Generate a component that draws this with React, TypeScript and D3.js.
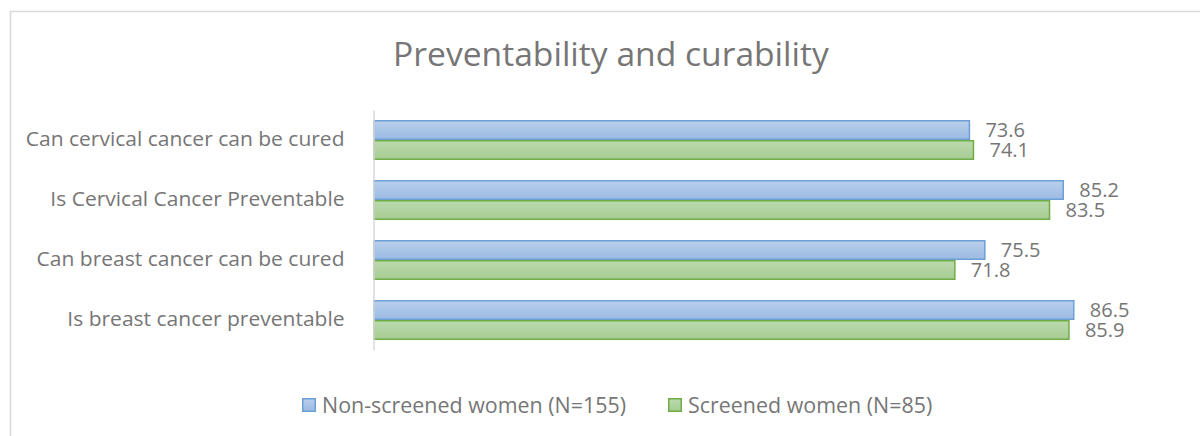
import React, { useEffect, useRef } from "react";
import * as d3 from "d3";

// categories top to bottom
const categories = [
	"Can cervical cancer can be cured",
	"Is Cervical Cancer Preventable",
	"Can breast cancer can be cured",
	"Is breast cancer preventable",
];
const nonScreened = [73.6, 85.2, 75.5, 86.5];
const screened = [74.1, 83.5, 71.8, 85.9];
const seriesNames = ["Non-screened women (N=155)", "Screened women (N=85)"];

const FONT = "'Open Sans', Lato, sans-serif";
const TEXT_COLOR = "#767676";

// the original font runs a bit wider than Open Sans, so widen texts slightly
function widen(sel: d3.Selection<any, any, any, any>, k: number) {
	sel.each(function () {
		const node = this as SVGTextElement;
		const len = node.getComputedTextLength();
		d3.select(node).attr("textLength", len * k).attr("lengthAdjust", "spacingAndGlyphs");
	});
}

export default function App() {
	const svgRef = useRef<SVGSVGElement | null>(null);

	useEffect(() => {
		if (!svgRef.current) return;
		const width = 1200;
		const height = 436;
		const plot = { left: 374, right: 1183, top: 110, bottom: 350 };

		const svg = d3.select(svgRef.current);
		svg.selectAll("*").remove();

		// gradients for the bars
		const defs = svg.append("defs");
		const grads = [
			{ id: "gBlue", top: "#b9cfec", bottom: "#9cbae3" },
			{ id: "gGreen", top: "#bcdaae", bottom: "#a5cc92" },
		];
		grads.forEach((g) => {
			const lg = defs.append("linearGradient").attr("id", g.id).attr("x1", 0).attr("y1", 0).attr("x2", 0).attr("y2", 1);
			lg.append("stop").attr("offset", "0%").attr("stop-color", g.top);
			lg.append("stop").attr("offset", "100%").attr("stop-color", g.bottom);
		});

		// chart border (right and bottom edges fall outside the picture)
		svg.append("rect")
			.attr("x", 10.5)
			.attr("y", 11.5)
			.attr("width", 1300)
			.attr("height", 500)
			.attr("fill", "none")
			.attr("stroke", "#d9d9d9")
			.attr("stroke-width", 1.5);

		const title = svg.append("text")
			.attr("x", 611)
			.attr("y", 66)
			.attr("text-anchor", "middle")
			.style("font-family", FONT)
			.style("font-size", "32px")
			.style("fill", TEXT_COLOR)
			.text("Preventability and curability");
		widen(title, 1.05);

		const x = d3.scaleLinear().domain([0, 100]).range([plot.left, plot.right]);
		const y = d3.scaleBand().domain(categories).range([plot.top, plot.bottom]).paddingInner(0.333).paddingOuter(0.1665);
		const sub = d3.scaleBand().domain(["0", "1"]).range([0, y.bandwidth()]);

		const series = [
			{ values: nonScreened, fill: "url(#gBlue)", stroke: "#6b9fd6" },
			{ values: screened, fill: "url(#gGreen)", stroke: "#70ad47" },
		];

		series.forEach((s, si) => {
			const g = svg.append("g");
			g.selectAll("rect")
				.data(categories)
				.enter()
				.append("rect")
				.attr("x", x(0))
				.attr("y", (d) => (y(d) ?? 0) + (sub(String(si)) ?? 0) + 0.75)
				.attr("width", (d, i) => x(s.values[i]) - x(0))
				.attr("height", sub.bandwidth() - 1.5)
				.attr("fill", s.fill)
				.attr("stroke", s.stroke)
				.attr("stroke-width", 1.5);
			g.selectAll("text")
				.data(categories)
				.enter()
				.append("text")
				.attr("x", (d, i) => x(s.values[i]) + 16)
				.attr("y", (d) => (y(d) ?? 0) + (sub(String(si)) ?? 0) + sub.bandwidth() / 2)
				.attr("dy", "0.36em")
				.style("font-family", FONT)
				.style("font-size", "20px")
				.style("fill", TEXT_COLOR)
				.text((d, i) => s.values[i].toFixed(1));
		});

		// vertical axis
		const yAxis = svg.append("g").attr("transform", `translate(${plot.left - 0.5},0)`).call(d3.axisLeft(y).tickSize(0).tickPadding(29));
		yAxis.select(".domain").attr("stroke", "#d9d9d9").attr("stroke-width", 1.5);
		const yLabels = yAxis.selectAll("text").style("font-family", FONT).style("font-size", "20px").style("fill", TEXT_COLOR);
		widen(yLabels, 1.05);

		// legend
		const legendX = [302, 668];
		series.forEach((s, si) => {
			svg.append("rect")
				.attr("x", legendX[si] + 0.75)
				.attr("y", 398.75)
				.attr("width", 12.5)
				.attr("height", 12.5)
				.attr("fill", s.fill)
				.attr("stroke", s.stroke)
				.attr("stroke-width", 1.5);
			const t = svg.append("text")
				.attr("x", legendX[si] + 20)
				.attr("y", 405)
				.attr("dy", "0.36em")
				.style("font-family", FONT)
				.style("font-size", "21px")
				.style("fill", TEXT_COLOR)
				.text(seriesNames[si]);
			widen(t, 1.02);
		});

		svg.attr("viewBox", `0 0 ${width} ${height}`);
	}, []);

	return (
		<div style={{ position: "absolute", left: 0, top: 0, background: "#fff" }}>
			<svg ref={svgRef} width={1200} height={436} style={{ display: "block" }} />
		</div>
	);
}
